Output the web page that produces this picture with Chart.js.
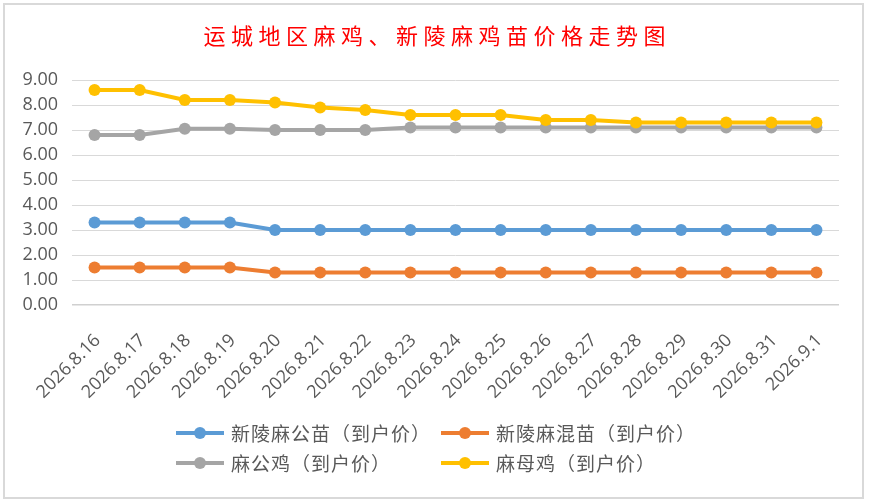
<!DOCTYPE html>
<html>
<head>
<meta charset="utf-8">
<script src="https://cdn.jsdelivr.net/npm/chart.js@4.4.0/dist/chart.umd.min.js"></script>
<style>
body { margin: 0; background: #fff; }
#frame { position: absolute; left: 3px; top: 3px; width: 861px; height: 496px; box-sizing: border-box; border: 2px solid #d9d9d9; }
#chart { position: absolute; left: 0; top: 0; }
#title { position: absolute; left: 0; top: 23px; width: 869px; padding-left: 5.5px; box-sizing: border-box; text-align: center;
         font-family: "Noto Sans CJK SC"; font-size: 22px; line-height: 22px; letter-spacing: 5.5px; color: #ff0000; }
.item { position: absolute; height: 26px; line-height: 26px; font-family: "Noto Sans CJK SC"; font-size: 19px; letter-spacing: 1px; color: #595959; white-space: nowrap; }
.mark { position: absolute; left: 0; top: 11px; width: 48px; height: 4px; }
.dot { position: absolute; left: 18px; top: -4px; width: 12px; height: 12px; border-radius: 50%; }
.item span.txt { position: absolute; left: 55px; top: 0; }
</style>
</head>
<body>
<div id="frame"></div>
<canvas id="chart" width="869" height="501"></canvas>
<div id="title">运城地区麻鸡、新陵麻鸡苗价格走势图</div>
<div id="legend"></div>
<script>
var dates = ["2026.8.16", "2026.8.17", "2026.8.18", "2026.8.19", "2026.8.20", "2026.8.21", "2026.8.22", "2026.8.23", "2026.8.24",
    "2026.8.25", "2026.8.26", "2026.8.27", "2026.8.28", "2026.8.29", "2026.8.30", "2026.8.31", "2026.9.1"];
var seriesNames = ["新陵麻公苗（到户价）", "新陵麻混苗（到户价）", "麻公鸡（到户价）", "麻母鸡（到户价）"];
var seriesColors = ["#5B9BD5", "#ED7D31", "#A5A5A5", "#FFC000"];

var maleChickPrice = [3.3, 3.3, 3.3, 3.3, 3.0, 3.0, 3.0, 3.0, 3.0, 3.0, 3.0, 3.0, 3.0, 3.0, 3.0, 3.0, 3.0];
var mixedChickPrice = [1.5, 1.5, 1.5, 1.5, 1.3, 1.3, 1.3, 1.3, 1.3, 1.3, 1.3, 1.3, 1.3, 1.3, 1.3, 1.3, 1.3];
var roosterPrice = [6.8, 6.8, 7.05, 7.05, 7.0, 7.0, 7.0, 7.1, 7.1, 7.1, 7.1, 7.1, 7.1, 7.1, 7.1, 7.1, 7.1];
var henPrice = [8.6, 8.6, 8.2, 8.2, 8.1, 7.9, 7.8, 7.6, 7.6, 7.6, 7.4, 7.4, 7.3, 7.3, 7.3, 7.3, 7.3];

var yTicks = [0, 1, 2, 3, 4, 5, 6, 7, 8, 9];

var seriesValues = [maleChickPrice, mixedChickPrice, roosterPrice, henPrice];
var datasets = [];
for (var i = 0; i < seriesValues.length; i++) {
    datasets.push({
        label: seriesNames[i],
        data: seriesValues[i],
        borderColor: seriesColors[i],
        backgroundColor: seriesColors[i],
        pointBackgroundColor: seriesColors[i],
        borderWidth: 4,
        pointRadius: 6,
        pointBorderWidth: 0,
        tension: 0,
        order: seriesValues.length - i // later series drawn on top, like excel
    });
}

var tickFont = { family: "Open Sans", size: 18 };

new Chart(document.getElementById("chart"), {
    type: "line",
    data: { labels: dates, datasets: datasets },
    options: {
        responsive: false,
        animation: false,
        layout: { padding: { left: 10, top: 80, right: 30, bottom: 96 } },
        plugins: { legend: { display: false }, title: { display: false }, tooltip: { enabled: false } },
        scales: {
            x: {
                offset: true,
                grid: { display: false },
                border: { display: false },
                ticks: { color: "#595959", font: tickFont, minRotation: 45, maxRotation: 45, autoSkip: false, padding: 17, labelOffset: 3 },
                afterFit: function(s) { s.height = 100; }
            },
            y: {
                min: yTicks[0],
                max: yTicks[yTicks.length - 1],
                afterBuildTicks: function(s) { s.ticks = yTicks.map(function(v) { return { value: v }; }); },
                grid: {
                    color: function(c) { return c.tick && c.tick.value === 0 ? "#d0d0d0" : "#d9d9d9"; },
                    lineWidth: function(c) { return c.tick && c.tick.value === 0 ? 1.5 : 1; },
                    drawTicks: false
                },
                border: { display: false },
                ticks: { color: "#595959", font: tickFont, padding: 14, callback: function(v) { return Number(v).toFixed(2); } },
                afterFit: function(s) { s.width = 62; }
            }
        }
    }
});

// legend laid out in two columns like the excel chart
var legendPos = [[176, 420], [441, 420], [176, 450], [441, 450]];
var legendHTML = "";
for (var k = 0; k < seriesNames.length; k++) {
    legendHTML += "<div class='item' style='left:" + legendPos[k][0] + "px;top:" + legendPos[k][1] + "px;width:260px'>" +
        "<div class='mark' style='background:" + seriesColors[k] + "'><div class='dot' style='background:" + seriesColors[k] + "'></div></div>" +
        "<span class='txt'>" + seriesNames[k] + "</span></div>";
}
document.getElementById("legend").innerHTML = legendHTML;
</script>
</body>
</html>
